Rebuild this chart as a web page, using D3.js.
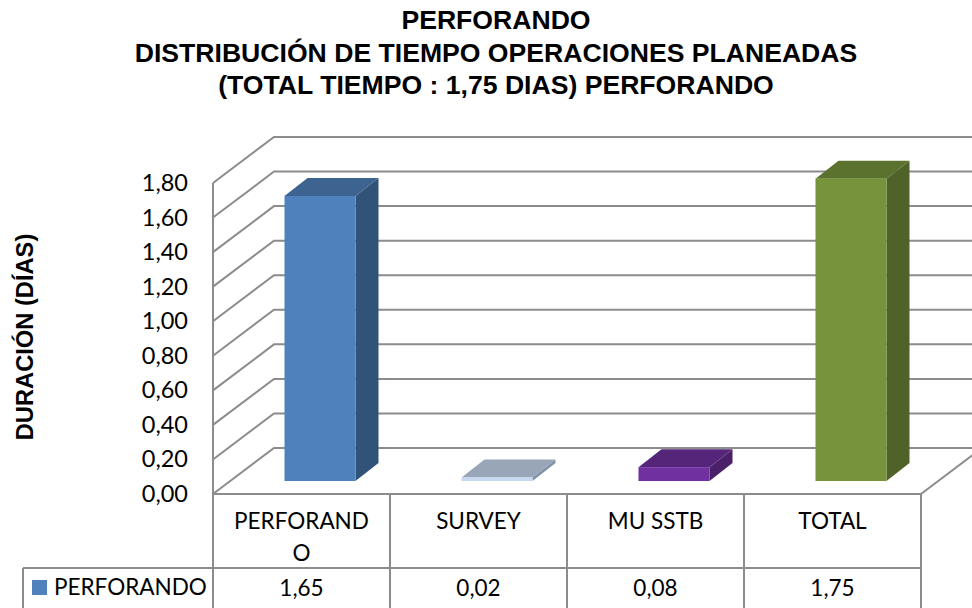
<!DOCTYPE html>
<html><head><meta charset="utf-8">
<script src="https://cdn.jsdelivr.net/npm/d3@7"></script>
<style>
html,body{margin:0;padding:0;background:#fff;overflow:hidden}
svg{display:block}
.t{font-family:"Liberation Sans",Arial,sans-serif;font-weight:700;fill:#000}
.c{font-family:Lato,"Open Sans",sans-serif;font-size:22.5px;fill:#000}
</style></head><body>
<svg id="chart" width="972" height="608"></svg>
<script>
const categories = ["PERFORANDO", "SURVEY", "MU SSTB", "TOTAL"];
const categoryLines = [["PERFORAND", "O"], ["SURVEY"], ["MU SSTB"], ["TOTAL"]];
const values = [1.65, 0.02, 0.08, 1.75];
const seriesName = "PERFORANDO";
const yTicks = [0, 0.2, 0.4, 0.6, 0.8, 1.0, 1.2, 1.4, 1.6, 1.8];
const titleLines = ["PERFORANDO", "DISTRIBUCIÓN DE TIEMPO OPERACIONES PLANEADAS", "(TOTAL TIEMPO : 1,75 DIAS) PERFORANDO"];
const yTitle = "DURACIÓN (DÍAS)";
const faces = [
  {front:"#4f81bd", top:"#3d6390", side:"#325379"},
  {front:"#c6d9f1", top:"#98a6b8", side:"#7f91a6"},
  {front:"#7030a0", top:"#55257a", side:"#4a2069"},
  {front:"#77933c", top:"#5b712e", side:"#4f6228"}
];

const grid = "#8c8c8c";
const left = 213, right = 921, floorY = 494, topY = 183;
const wallDx = 61, wallDy = 46;
const svg = d3.select("#chart");
const fmt = d3.formatLocale({decimal:",",thousands:".",grouping:[3],currency:["",""]}).format(".2f");

const y = d3.scaleLinear().domain([0, 1.8]).range([floorY, topY]);
const x = d3.scaleBand().domain(categories).range([left, right]);
const barW = 71, baseOff = 13, baseDx = 18.5, barDx = 23, barDy = 18;

// title
svg.append("g").selectAll("text").data(titleLines).join("text")
  .attr("class","t").attr("text-anchor","middle").attr("x",496)
  .attr("y",(d,i)=>29+i*32.5).attr("font-size",26.6).text(d=>d);

// axis title
svg.append("text").attr("class","t").attr("font-size",23.7)
  .attr("text-anchor","middle")
  .attr("transform","translate(33,337) rotate(-90)").text(yTitle);

// gridlines on wall + floor
const line = d3.line();
const g = svg.append("g").attr("fill","none").attr("stroke",grid).attr("stroke-width",2);
g.selectAll("path.grid").data(yTicks).join("path").attr("class","grid")
  .attr("d",d=>line([[left,y(d)],[left+wallDx,y(d)-wallDy],[972,y(d)-wallDy]]));
g.append("path").attr("d",line([[left,y(0)],[left,y(1.8)]]));
g.append("path").attr("d",line([[right,floorY],[right+wallDx,floorY-wallDy]]));

// y axis labels
const axis = d3.axisLeft(y).tickValues(yTicks).tickFormat(fmt).tickSize(0).tickPadding(25);
const ax = svg.append("g").attr("transform",`translate(${left},0)`).call(axis);
ax.select(".domain").remove();
ax.selectAll("text").attr("class","c").style("font-size","23.5px").style("font-family","Lato,'Open Sans',sans-serif").attr("fill","#000");

// bars
const bars = svg.append("g").selectAll("g").data(values).join("g");
const fx = (d,i)=> x(categories[i]) + (x.bandwidth()-barW)/2 + baseDx;
const base = floorY - baseOff;
const h = d => y(0) - y(d);
bars.append("path").attr("fill",(d,i)=>faces[i].side)
  .attr("d",(d,i)=>{const X=fx(d,i)+barW,T=base-h(d);return line([[X,base],[X+barDx,base-barDy],[X+barDx,T-barDy],[X,T]])+"Z";});
bars.append("path").attr("fill",(d,i)=>faces[i].top)
  .attr("d",(d,i)=>{const X=fx(d,i),T=base-h(d);return line([[X,T],[X+barDx,T-barDy],[X+barW+barDx,T-barDy],[X+barW,T]])+"Z";});
bars.append("rect").attr("fill",(d,i)=>faces[i].front)
  .attr("x",(d,i)=>fx(d,i)).attr("width",barW)
  .attr("y",d=>base-h(d)).attr("height",d=>h(d));

// data table
const rowA = 568, rowB = 608, legendX = 23;
const tb = svg.append("g").attr("fill","none").attr("stroke",grid).attr("stroke-width",2);
tb.append("path").attr("d",line([[left,floorY],[right,floorY]]));
tb.append("path").attr("d",line([[legendX,rowA],[right,rowA]]));
tb.append("path").attr("d",line([[legendX,rowA],[legendX,rowB]]));
tb.selectAll("path.v").data([...categories.map(c=>x(c)), right]).join("path").attr("class","v")
  .attr("d",d=>line([[d,floorY],[d,rowB]]));

svg.append("g").selectAll("text").data(categories.flatMap((c,i)=>categoryLines[i].map((s,j)=>({c,s,j})))).join("text")
  .attr("class","c").attr("text-anchor","middle")
  .attr("x",d=>x(d.c)+x.bandwidth()/2).attr("y",d=>529+d.j*32).text(d=>d.s);

svg.append("g").selectAll("text").data(values).join("text")
  .attr("class","c").attr("text-anchor","middle")
  .attr("x",(d,i)=>x(categories[i])+x.bandwidth()/2).attr("y",596).text(d=>fmt(d));

svg.append("rect").attr("x",32).attr("y",580).attr("width",15).attr("height",15).attr("fill",faces[0].front);
svg.append("text").attr("class","c").attr("x",54).attr("y",595).text(seriesName);
</script>
</body></html>
